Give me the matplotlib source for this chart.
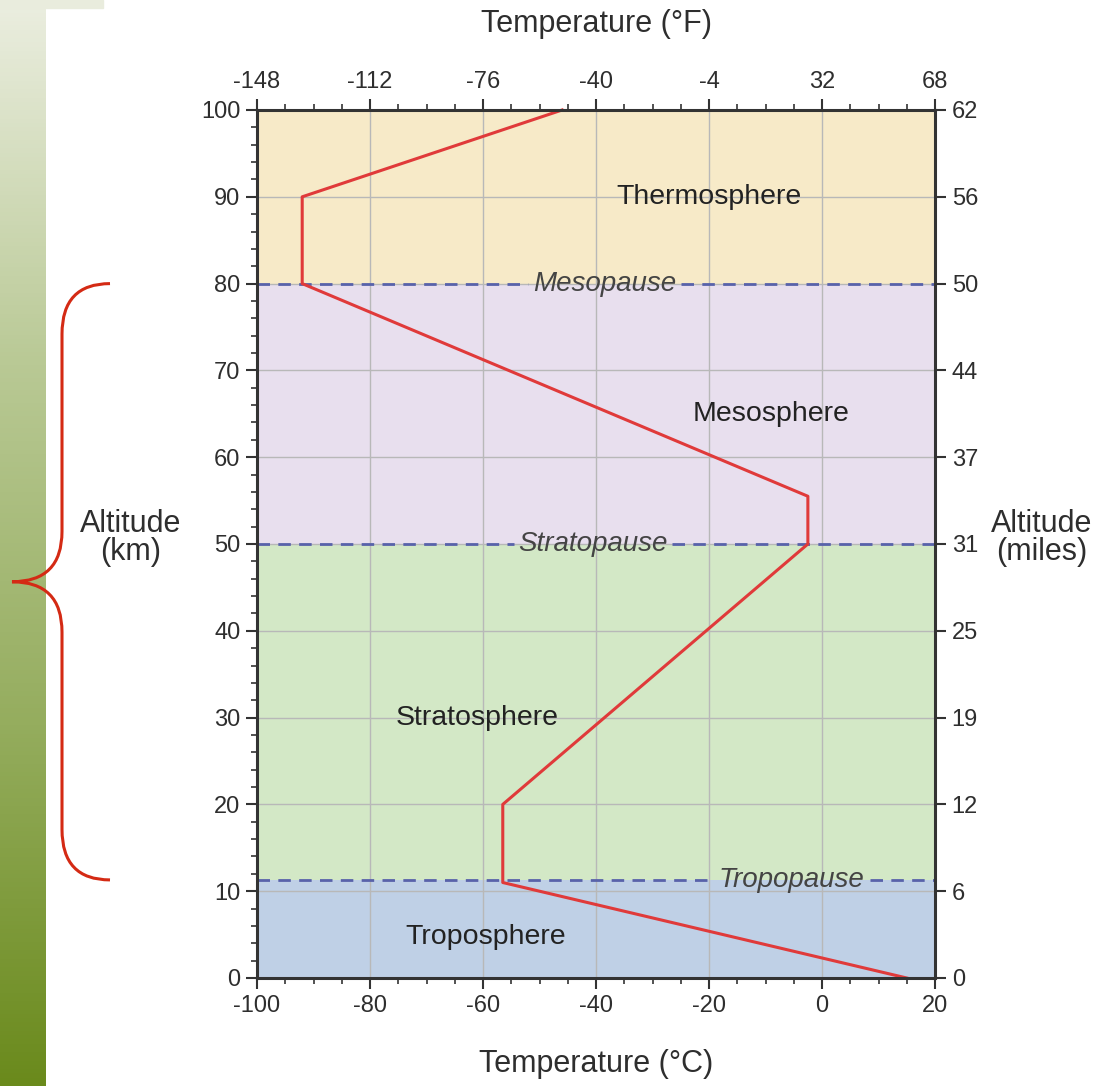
import numpy as np
import matplotlib
matplotlib.use("Agg")
import matplotlib.pyplot as plt
from matplotlib.patches import Rectangle, PathPatch
from matplotlib.path import Path
import matplotlib.transforms as mtransforms

plt.rcParams['font.family'] = ['Liberation Sans', 'DejaVu Sans']

# Temperaturprofil (Standardatmosphaere)
alt_km = [0, 11, 20, 50, 55.5, 80, 90, 100]
temp_c = [15, -56.5, -56.5, -2.5, -2.5, -92, -92, -46]

# Schichten: Name, Unter-/Obergrenze, Farbe
layer_names = ["Troposphere", "Stratosphere", "Mesosphere", "Thermosphere"]
layer_bottom = [0, 11.3, 50, 80]
layer_top = [11.3, 50, 80, 100]
layer_colors = ["#bfd0e6", "#d3e8c6", "#e8dfee", "#f7eac8"]
layer_label_x = [-59.5, -61, -9, -20]
layer_label_y = [4.7, 30, 65, 90]

# Pausen: Name, Hoehe, Textposition, Luecke im Strich
pause_names = ["Tropopause", "Stratopause", "Mesopause"]
pause_alt = [11.3, 50, 80]
pause_label_x = [-5.5, -40.5, -38.5]
pause_gap = [[-19.5, 8.5], [-54.5, -26.5], [-52, -25]]

km_ticks = [0, 10, 20, 30, 40, 50, 60, 70, 80, 90, 100]
mile_labels = ["0", "6", "12", "19", "25", "31", "37", "44", "50", "56", "62"]
c_ticks = [-100, -80, -60, -40, -20, 0, 20]
f_labels = ["-148", "-112", "-76", "-40", "-4", "32", "68"]

txt = "#2e2e2e"
tick_fs = 17
lab_fs = 22

fig = plt.figure(figsize=(10.99, 10.86), dpi=100)

# gruener Balken links
bar = fig.add_axes([0, 0, 46/1099, 1])
grad = np.linspace(0, 1, 256).reshape(-1, 1)
cmap = matplotlib.colors.LinearSegmentedColormap.from_list(
    "gr", ["#ebeee0", "#b9c995", "#95ad5e", "#6a8a1c"])
bar.imshow(grad, aspect="auto", cmap=cmap, extent=[0, 1, 0, 1], origin="upper")
bar.set_axis_off()
fig.patches.append(Rectangle((0, 1 - 8/1086), 103/1099, 8/1086, transform=fig.transFigure,
                             color="#e9ecdd", zorder=0))

ax = fig.add_axes([257/1099, 1 - 978/1086, 678/1099, 868/1086])
ax.set_xlim(-100, 20)
ax.set_ylim(0, 100)

for b, t, c in zip(layer_bottom, layer_top, layer_colors):
    ax.axhspan(b, t, color=c, zorder=0, lw=0)

ax.set_xticks(c_ticks)
ax.set_yticks(km_ticks)
ax.set_xticks(np.arange(-100, 21, 5), minor=True)
ax.set_yticks(np.arange(0, 101, 2), minor=True)
ax.grid(True, color="#b8b8b8", lw=1.0, zorder=1)

for nm, a, lx, gap in zip(pause_names, pause_alt, pause_label_x, pause_gap):
    ax.plot([-100, gap[0]], [a, a], ls=(0, (4.5, 3)), color="#5862aa", lw=2, zorder=3)
    ax.plot([gap[1], 20], [a, a], ls=(0, (4.5, 3)), color="#5862aa", lw=2, zorder=3)
    ax.text(lx, a, nm, style="italic", fontsize=20, color="#444444",
            ha="center", va="center", zorder=4)

for nm, lx, ly in zip(layer_names, layer_label_x, layer_label_y):
    ax.text(lx, ly, nm, fontsize=20.5, color="#222222", ha="center", va="center", zorder=4)

ax.plot(temp_c, alt_km, color="#e03a3a", lw=2.2, zorder=5, clip_on=False)

ax.tick_params(axis="both", which="major", direction="out", length=8, width=1.5,
               labelsize=tick_fs, labelcolor=txt, color="#333333", pad=4)
ax.tick_params(axis="y", which="minor", direction="out", length=4, width=1.2, color="#333333")
ax.tick_params(axis="x", which="minor", direction="out", length=4, width=1.2, color="#333333")
ax.set_xticklabels([str(v) for v in c_ticks])
for s in ax.spines.values():
    s.set_color("#333333")
    s.set_linewidth(2.2)
    s.set_zorder(6)

# obere Achse in Fahrenheit
axt = ax.twiny()
axt.set_xlim(ax.get_xlim())
axt.set_xticks(c_ticks)
axt.set_xticklabels(f_labels)
axt.set_xticks(np.arange(-100, 21, 5), minor=True)
axt.tick_params(axis="x", which="major", direction="out", length=8, width=1.5,
                labelsize=tick_fs, labelcolor=txt, color="#333333", pad=4)
axt.tick_params(axis="x", which="minor", direction="out", length=4, width=1.2, color="#333333")

# rechte Achse in Meilen
axr = ax.twinx()
axr.set_ylim(ax.get_ylim())
axr.set_yticks(km_ticks)
axr.set_yticklabels(mile_labels)
axr.tick_params(axis="y", direction="out", length=8, width=1.5,
                labelsize=tick_fs, labelcolor=txt, color="#333333", pad=4)
for a2 in (axt, axr):
    for s in a2.spines.values():
        s.set_visible(False)

fig.text(596/1099, 1 - 24/1086, "Temperature (°F)", fontsize=lab_fs, color=txt,
         ha="center", va="center")
fig.text(596/1099, 1 - 1064/1086, "Temperature (°C)", fontsize=lab_fs, color=txt,
         ha="center", va="center")
fig.text(131/1099, 1 - 538/1086, "Altitude\n(km)", fontsize=lab_fs, color=txt,
         ha="center", va="center", linespacing=0.95)
fig.text(1042/1099, 1 - 538/1086, "Altitude\n(miles)", fontsize=lab_fs, color=txt,
         ha="center", va="center", linespacing=0.95)

# rote Klammer: mittlere Atmosphaere (Tropopause bis Mesopause)
trans = mtransforms.blended_transform_factory(fig.transFigure, ax.transData)
x_end, x_mid, x_tip = 110/1099, 62/1099, 12/1099
y_lo, y_hi = pause_alt[0], pause_alt[2]
y_c = (y_lo + y_hi) / 2
r = 5.8
verts = [(x_end, y_hi), (x_mid, y_hi), (x_mid, y_hi - r),
         (x_mid, y_c + r),
         (x_mid, y_c), (x_tip, y_c),
         (x_mid, y_c), (x_mid, y_c - r),
         (x_mid, y_lo + r),
         (x_mid, y_lo), (x_end, y_lo)]
codes = [Path.MOVETO, Path.CURVE3, Path.CURVE3,
         Path.LINETO,
         Path.CURVE3, Path.CURVE3,
         Path.CURVE3, Path.CURVE3,
         Path.LINETO,
         Path.CURVE3, Path.CURVE3]
brace = PathPatch(Path(verts, codes), transform=trans, fill=False,
                  edgecolor="#d42a14", lw=2.2, clip_on=False)
fig.patches.append(brace)

fig.savefig("out.png", dpi=100)
